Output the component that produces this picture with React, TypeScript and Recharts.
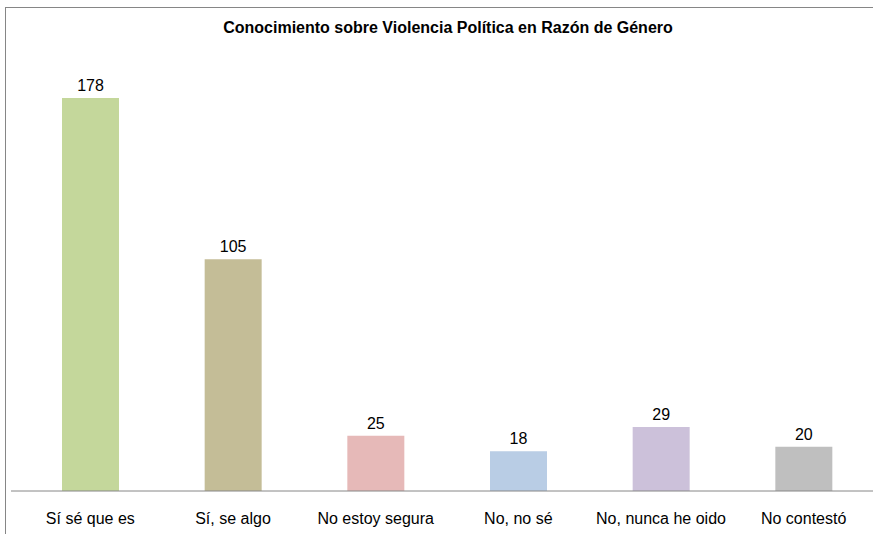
import React from 'react';
import { BarChart, Bar, XAxis, YAxis, Cell, LabelList } from 'recharts';

const categories = ['Sí sé que es', 'Sí, se algo', 'No estoy segura', 'No, no sé', 'No, nunca he oido', 'No contestó'];
const counts = [178, 105, 25, 18, 29, 20];
const COLORS = ['#c4d79b', '#c4bd97', '#e6b9b8', '#b9cde5', '#ccc1da', '#bfbfbf'];

const data = categories.map((name, i) => ({ name, value: counts[i] }));

const FONT = '"Liberation Sans", Arial, sans-serif';

export default function App() {
  return (
    <div style={{ position: 'fixed', left: 0, top: 0, width: 873, height: 534, overflow: 'hidden', background: '#fff' }}>
      <div
        style={{
          position: 'absolute',
          left: 5,
          top: 7,
          width: 900,
          height: 600,
          border: '1px solid #868686',
          boxSizing: 'border-box',
        }}
      />
      <div
        style={{
          position: 'absolute',
          left: 0,
          top: 18,
          width: 896,
          textAlign: 'center',
          fontFamily: FONT,
          fontWeight: 'bold',
          fontSize: 16,
          lineHeight: '20px',
          color: '#000',
        }}
      >
        Conocimiento sobre Violencia Política en Razón de Género
      </div>
      <div style={{ position: 'absolute', left: 0, top: 0 }}>
        <BarChart
          width={900}
          height={534}
          data={data}
          margin={{ top: 49.4, right: 25, bottom: 13, left: 11 }}
        >
          <XAxis
            dataKey="name"
            height={30}
            axisLine={{ stroke: '#868686' }}
            tickLine={false}
            tickSize={0}
            tickMargin={22}
            padding={{ left: 8, right: 0 }}
            interval={0}
            tick={{ fill: '#000', fontSize: 16, fontFamily: FONT }}
          />
          <YAxis hide domain={[0, 200]} />
          <Bar dataKey="value" barSize={57} isAnimationActive={false}>
            {data.map((entry, index) => (
              <Cell key={`cell-${index}`} fill={COLORS[index % COLORS.length]} />
            ))}
            <LabelList
              dataKey="value"
              position="top"
              offset={7}
              style={{ fill: '#000', fontSize: 16, fontFamily: FONT }}
            />
          </Bar>
        </BarChart>
      </div>
    </div>
  );
}
